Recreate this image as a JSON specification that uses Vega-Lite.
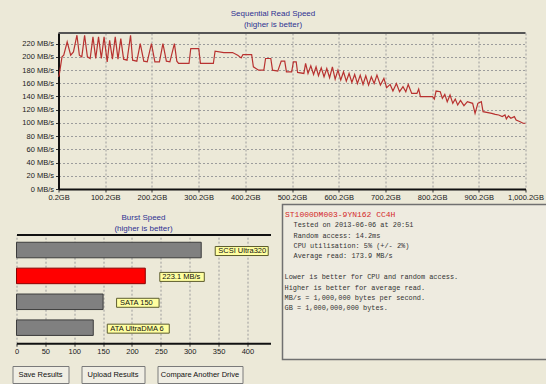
{
  "$schema": "https://vega.github.io/schema/vega-lite/v6.json",
  "background": "#ECE9D8",
  "padding": {"left": 11.5, "top": 9, "right": 0, "bottom": 0},
  "spacing": 1.5,
  "align": "each",
  "config": {
    "view": {"stroke": null},
    "font": "Liberation Sans",
    "axis": {"labelFont": "Liberation Sans", "labelFontSize": 7.5, "labelColor": "#1a1a1a", "domainColor": "#111111", "domainWidth": 2, "tickColor": "#333333", "gridColor": "#9c9c9c", "gridDash": [2, 2], "gridWidth": 1},
    "title": {"font": "Liberation Sans", "fontSize": 8, "fontWeight": "normal", "color": "#2E3192", "lineHeight": 11, "anchor": "middle", "frame": "group"}
  },
  "vconcat": [
    {
      "hconcat": [
        {"width": 1, "height": 1, "data": {"values": [{"gap": "left"}]}, "mark": {"type": "text", "fontSize": 0}, "encoding": {"text": {"value": ""}}},
        {
          "width": 467,
          "height": 156,
          "title": {"text": ["Sequential Read Speed", "(higher is better)"], "offset": 3.5, "dx": -19},
          "resolve": {"axis": {"y": "independent"}},
          "layer": [
            {
              "data": {"values": [
                {"gb": 0.2, "mbs": 170}, {"gb": 1.7, "mbs": 172.3}, {"gb": 7.7, "mbs": 199.9}, {"gb": 11.4, "mbs": 202.4}, {"gb": 18.8, "mbs": 222.5},
                {"gb": 26.3, "mbs": 202.4}, {"gb": 32.2, "mbs": 207.4}, {"gb": 39.7, "mbs": 232.6}, {"gb": 44.9, "mbs": 202.4}, {"gb": 50.1, "mbs": 199.9},
                {"gb": 56.1, "mbs": 232.6}, {"gb": 62.1, "mbs": 199.9}, {"gb": 68.0, "mbs": 197.4}, {"gb": 74.0, "mbs": 230.1}, {"gb": 79.9, "mbs": 197.4},
                {"gb": 85.9, "mbs": 230.1}, {"gb": 91.9, "mbs": 197.4}, {"gb": 97.8, "mbs": 230.1}, {"gb": 104.5, "mbs": 192.4}, {"gb": 109.7, "mbs": 225.0},
                {"gb": 115.7, "mbs": 196.4}, {"gb": 121.7, "mbs": 230.1}, {"gb": 127.6, "mbs": 196.4}, {"gb": 133.6, "mbs": 227.5}, {"gb": 139.6, "mbs": 196.4},
                {"gb": 147.0, "mbs": 194.9}, {"gb": 154.5, "mbs": 232.6}, {"gb": 158.9, "mbs": 194.9}, {"gb": 167.9, "mbs": 193.4}, {"gb": 175.3, "mbs": 220.0},
                {"gb": 182.8, "mbs": 193.4}, {"gb": 190.2, "mbs": 192.4}, {"gb": 199.2, "mbs": 220.0}, {"gb": 206.6, "mbs": 192.4}, {"gb": 216.3, "mbs": 192.4},
                {"gb": 223.8, "mbs": 220.0}, {"gb": 231.2, "mbs": 193.4}, {"gb": 238.7, "mbs": 192.4}, {"gb": 248.4, "mbs": 220.0}, {"gb": 253.6, "mbs": 193.4},
                {"gb": 257.3, "mbs": 189.9}, {"gb": 279.7, "mbs": 189.9}, {"gb": 283.4, "mbs": 212.5}, {"gb": 300.5, "mbs": 212.5}, {"gb": 304.2, "mbs": 189.9},
                {"gb": 331.8, "mbs": 189.9}, {"gb": 335.5, "mbs": 208.5}, {"gb": 354.2, "mbs": 206.4}, {"gb": 372.8, "mbs": 206.4}, {"gb": 384.0, "mbs": 202.4},
                {"gb": 391.4, "mbs": 198.4}, {"gb": 395.2, "mbs": 203.4}, {"gb": 413.8, "mbs": 203.4}, {"gb": 417.5, "mbs": 184.8}, {"gb": 428.7, "mbs": 179.8},
                {"gb": 439.9, "mbs": 179.8}, {"gb": 443.6, "mbs": 197.4}, {"gb": 454.8, "mbs": 197.4}, {"gb": 458.5, "mbs": 179.8}, {"gb": 469.7, "mbs": 178.3},
                {"gb": 477.1, "mbs": 193.4}, {"gb": 484.6, "mbs": 193.4}, {"gb": 488.3, "mbs": 177.3}, {"gb": 499.5, "mbs": 177.3}, {"gb": 503.2, "mbs": 192.4},
                {"gb": 509.2, "mbs": 192.4}, {"gb": 512.2, "mbs": 176.3}, {"gb": 525.6, "mbs": 174.8}, {"gb": 529.3, "mbs": 189.9}, {"gb": 534.5, "mbs": 174.8},
                {"gb": 540.5, "mbs": 186.4}, {"gb": 546.4, "mbs": 173.3}, {"gb": 551.7, "mbs": 184.8}, {"gb": 556.9, "mbs": 171.3}, {"gb": 562.8, "mbs": 183.3},
                {"gb": 568.8, "mbs": 169.8}, {"gb": 574.7, "mbs": 182.3}, {"gb": 580.7, "mbs": 168.3}, {"gb": 586.7, "mbs": 184.8}, {"gb": 592.6, "mbs": 166.3},
                {"gb": 598.6, "mbs": 179.8}, {"gb": 604.6, "mbs": 164.8}, {"gb": 610.5, "mbs": 177.3}, {"gb": 616.5, "mbs": 163.2}, {"gb": 622.4, "mbs": 174.8},
                {"gb": 628.4, "mbs": 161.2}, {"gb": 634.4, "mbs": 173.3}, {"gb": 640.3, "mbs": 159.7}, {"gb": 646.3, "mbs": 172.3}, {"gb": 652.3, "mbs": 158.2},
                {"gb": 658.2, "mbs": 171.3}, {"gb": 664.2, "mbs": 157.2}, {"gb": 670.1, "mbs": 169.8}, {"gb": 676.1, "mbs": 159.7}, {"gb": 682.1, "mbs": 172.3},
                {"gb": 689.5, "mbs": 157.2}, {"gb": 697.0, "mbs": 167.3}, {"gb": 702.9, "mbs": 153.2}, {"gb": 710.4, "mbs": 158.2}, {"gb": 716.3, "mbs": 148.2},
                {"gb": 723.8, "mbs": 159.7}, {"gb": 730.5, "mbs": 147.2}, {"gb": 737.9, "mbs": 154.7}, {"gb": 743.9, "mbs": 147.2}, {"gb": 749.1, "mbs": 158.2},
                {"gb": 756.6, "mbs": 144.7}, {"gb": 767.8, "mbs": 144.7}, {"gb": 771.5, "mbs": 151.2}, {"gb": 775.2, "mbs": 139.6}, {"gb": 801.3, "mbs": 139.6},
                {"gb": 805.0, "mbs": 136.1}, {"gb": 808.7, "mbs": 148.2}, {"gb": 817.7, "mbs": 147.2}, {"gb": 822.2, "mbs": 137.1}, {"gb": 827.4, "mbs": 143.2},
                {"gb": 832.6, "mbs": 132.1}, {"gb": 838.6, "mbs": 142.1}, {"gb": 844.5, "mbs": 129.6}, {"gb": 849.8, "mbs": 136.1}, {"gb": 855.0, "mbs": 127.1},
                {"gb": 861.0, "mbs": 134.1}, {"gb": 868.4, "mbs": 126.1}, {"gb": 875.8, "mbs": 132.1}, {"gb": 887.0, "mbs": 129.6}, {"gb": 892.2, "mbs": 114.5},
                {"gb": 898.2, "mbs": 129.6}, {"gb": 905.6, "mbs": 132.1}, {"gb": 909.3, "mbs": 117.0}, {"gb": 927.9, "mbs": 114.5}, {"gb": 935.4, "mbs": 113.0},
                {"gb": 942.9, "mbs": 112.0}, {"gb": 950.3, "mbs": 109.5}, {"gb": 956.3, "mbs": 112.0}, {"gb": 959.2, "mbs": 106.0}, {"gb": 963.7, "mbs": 110.5},
                {"gb": 968.9, "mbs": 107.0}, {"gb": 976.4, "mbs": 109.5}, {"gb": 980.1, "mbs": 104.5}, {"gb": 987.6, "mbs": 102.0}, {"gb": 995.0, "mbs": 99.5},
                {"gb": 1000.2, "mbs": 99.5}
              ]},
              "mark": {"type": "line", "color": "#B83230", "strokeWidth": 1.2},
              "encoding": {
                "x": {"field": "gb", "type": "quantitative", "scale": {"domain": [0.2, 1000.2], "nice": false, "zero": false},
                  "axis": {"title": null, "orient": "bottom", "values": [0.2, 100.2, 200.2, 300.2, 400.2, 500.2, 600.2, 700.2, 800.2, 900.2, 1000.2], "labelExpr": "format(datum.value, ',.1f') + 'GB'", "grid": true, "tickSize": 3, "labelPadding": 1.5, "minExtent": 13, "maxExtent": 13, "labelFlush": false, "labelOverlap": false}},
                "y": {"field": "mbs", "type": "quantitative", "scale": {"domain": [0, 236], "nice": false},
                  "axis": {"title": null, "values": [0, 20, 40, 60, 80, 100, 120, 140, 160, 180, 200, 220], "labelExpr": "datum.value + ' MB/s'", "grid": true, "tickSize": 3, "labelPadding": 2, "minExtent": 45, "maxExtent": 45, "labelOverlap": false}}
              }
            },
            {
              "data": {"values": [{"edge": "top"}]},
              "mark": {"type": "rule", "color": "#555555", "strokeWidth": 2},
              "encoding": {"y": {"datum": 236, "type": "quantitative", "axis": null}}
            }
          ]
        }
      ],
      "spacing": 0,
      "align": "each"
    },
    {
      "hconcat": [
        {"width": 1, "height": 1, "data": {"values": [{"gap": "left"}]}, "mark": {"type": "text", "fontSize": 0}, "encoding": {"text": {"value": ""}}},
        {
          "hconcat": [
            {
              "vconcat": [
                {"width": 1, "height": 1, "data": {"values": [{"gap": "top"}]}, "mark": {"type": "text", "fontSize": 0}, "encoding": {"text": {"value": ""}}},
                {
                  "width": 254,
                  "height": 108.7,
                  "title": {"text": ["Burst Speed", "(higher is better)"], "offset": -27},
                  "data": {"values": [
                    {"name": "SCSI Ultra320", "speed": 320, "label": "SCSI Ultra320"},
                    {"name": "This drive", "speed": 223.1, "label": "223.1 MB/s"},
                    {"name": "SATA 150", "speed": 150, "label": "SATA 150"},
                    {"name": "ATA UltraDMA 6", "speed": 133, "label": "ATA UltraDMA 6"}
                  ]},
                  "resolve": {"axis": {"x": "independent"}},
                  "layer": [
                    {
                      "mark": {"type": "bar", "strokeWidth": 1},
                      "encoding": {
                        "y": {"field": "name", "type": "nominal", "sort": null, "scale": {"paddingInner": 0.4, "paddingOuter": 0.3},
                          "axis": {"title": null, "labels": false, "ticks": false, "grid": false, "minExtent": 4, "maxExtent": 4}},
                        "x": {"field": "speed", "type": "quantitative", "scale": {"domain": [0, 440], "nice": false},
                          "axis": {"title": null, "orient": "bottom", "values": [0, 50, 100, 150, 200, 250, 300, 350, 400], "grid": true, "tickSize": 3, "labelPadding": 1, "minExtent": 20, "maxExtent": 20, "labelFlush": false, "labelOverlap": false}},
                        "fill": {"field": "name", "type": "nominal", "scale": {"domain": ["SCSI Ultra320", "This drive", "SATA 150", "ATA UltraDMA 6"], "range": ["#808080", "#FF0000", "#808080", "#808080"]}, "legend": null},
                        "stroke": {"field": "name", "type": "nominal", "scale": {"domain": ["SCSI Ultra320", "This drive", "SATA 150", "ATA UltraDMA 6"], "range": ["#3C3C3C", "#8B0000", "#3C3C3C", "#3C3C3C"]}, "legend": null}
                      }
                    },
                    {
                      "mark": {"type": "point", "filled": true, "size": 10000, "fill": "#FFFFA0", "stroke": "#5C5C2E", "strokeWidth": 1, "opacity": 1},
                      "encoding": {
                        "x": {"field": "speed", "type": "quantitative",
                          "axis": {"title": null, "orient": "top", "labels": false, "ticks": false, "grid": false, "minExtent": 29, "maxExtent": 29}},
                        "y": {"field": "name", "type": "nominal", "sort": null, "axis": null},
                        "shape": {"field": "name", "type": "nominal", "legend": null,
                          "scale": {"domain": ["SCSI Ultra320", "This drive", "SATA 150", "ATA UltraDMA 6"],
                            "range": ["M0.28,-0.07 L1.34,-0.07 L1.34,0.11 L0.28,0.11 Z", "M0.29,-0.07 L1.18,-0.07 L1.18,0.11 L0.29,0.11 Z", "M0.27,-0.07 L1.12,-0.07 L1.12,0.11 L0.27,0.11 Z", "M0.28,-0.07 L1.52,-0.07 L1.52,0.11 L0.28,0.11 Z"]}}
                      }
                    },
                    {
                      "mark": {"type": "text", "align": "left", "dx": 17, "dy": 1, "fontSize": 7.5, "color": "#111111"},
                      "encoding": {
                        "x": {"field": "speed", "type": "quantitative", "axis": null},
                        "y": {"field": "name", "type": "nominal", "sort": null, "axis": null},
                        "text": {"field": "label"}
                      }
                    }
                  ]
                }
              ],
              "spacing": 0,
              "align": "each"
            },
            {
              "width": 266,
              "height": 155,
              "view": {"stroke": "#707070", "strokeWidth": 1.5, "fill": "#EEEBE0"},
              "data": {"values": [
                {"line": 0, "kind": "header", "text": "ST1000DM003-9YN162 CC4H"},
                {"line": 1, "kind": "detail", "text": "Tested on 2013-06-06 at 20:51"},
                {"line": 2, "kind": "detail", "text": "Random access: 14.2ms"},
                {"line": 3, "kind": "detail", "text": "CPU utilisation: 5% (+/- 2%)"},
                {"line": 4, "kind": "detail", "text": "Average read: 173.9 MB/s"},
                {"line": 6, "kind": "note", "text": "Lower is better for CPU and random access."},
                {"line": 7, "kind": "note", "text": "Higher is better for average read."},
                {"line": 8, "kind": "note", "text": "MB/s = 1,000,000 bytes per second."},
                {"line": 9, "kind": "note", "text": "GB = 1,000,000,000 bytes."}
              ]},
              "encoding": {
                "x": {"datum": 0, "type": "quantitative", "scale": {"domain": [0, 1]}, "axis": null},
                "y": {"field": "line", "type": "quantitative", "scale": {"domain": [-1, 13.93], "reverse": true, "nice": false, "zero": false}, "axis": null},
                "text": {"field": "text"}
              },
              "layer": [
                {"transform": [{"filter": "datum.kind == 'header'"}], "mark": {"type": "text", "align": "left", "dx": 2.5, "font": "Liberation Mono", "fontSize": 8, "color": "#D42A2A"}},
                {"transform": [{"filter": "datum.kind == 'detail'"}], "mark": {"type": "text", "align": "left", "dx": 11, "font": "Liberation Mono", "fontSize": 6.9, "color": "#333333"}},
                {"transform": [{"filter": "datum.kind == 'note'"}], "mark": {"type": "text", "align": "left", "dx": 2, "font": "Liberation Mono", "fontSize": 6.9, "color": "#333333"}}
              ]
            }
          ],
          "spacing": 11,
          "align": "each"
        }
      ],
      "spacing": 0,
      "align": "each"
    },
    {
      "hconcat": [
        {"width": 56, "height": 17, "view": {"stroke": "#7A7A7A", "fill": "#F0EEE4"}, "data": {"values": [{"label": "Save Results"}]}, "mark": {"type": "text", "fontSize": 7.5, "color": "#111111"}, "encoding": {"text": {"field": "label"}}},
        {"width": 63, "height": 17, "view": {"stroke": "#7A7A7A", "fill": "#F0EEE4"}, "data": {"values": [{"label": "Upload Results"}]}, "mark": {"type": "text", "fontSize": 7.5, "color": "#111111"}, "encoding": {"text": {"field": "label"}}},
        {"width": 85, "height": 17, "view": {"stroke": "#7A7A7A", "fill": "#F0EEE4"}, "data": {"values": [{"label": "Compare Another Drive"}]}, "mark": {"type": "text", "fontSize": 7.5, "color": "#111111"}, "encoding": {"text": {"field": "label"}}}
      ],
      "spacing": 11,
      "align": "each"
    }
  ]
}
